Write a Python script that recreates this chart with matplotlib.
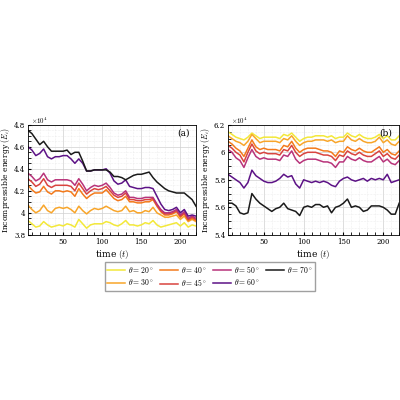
import matplotlib
matplotlib.use("Agg")
import matplotlib.pyplot as plt
import numpy as np

plt.rcParams['font.family'] = ['DejaVu Serif']
plt.rcParams['mathtext.fontset'] = 'cm'

t = list(range(5, 221, 5))
labels = [r'$\theta=20^\circ$', r'$\theta=30^\circ$', r'$\theta=40^\circ$', r'$\theta=45^\circ$',
          r'$\theta=50^\circ$', r'$\theta=60^\circ$', r'$\theta=70^\circ$']
colors = ['#f3e83a', '#f8a52a', '#f37a1c', '#d9443f', '#b8337a', '#5c1286', '#1a1a1a']

a20 = [3.93,3.90,3.87,3.88,3.92,3.89,3.87,3.88,3.89,3.88,3.90,3.89,3.87,3.94,3.90,3.86,3.89,3.90,3.90,3.90,3.92,3.91,3.89,3.88,3.90,3.93,3.89,3.89,3.88,3.89,3.91,3.90,3.93,3.89,3.87,3.88,3.89,3.90,3.91,3.88,3.91,3.87,3.89,3.88]
a30 = [4.07,4.03,4.00,4.02,4.07,4.02,4.00,4.04,4.05,4.04,4.05,4.03,4.00,4.06,4.02,3.99,4.02,4.04,4.03,4.04,4.06,4.04,4.02,4.01,4.02,4.06,4.01,4.02,4.00,4.00,4.02,4.01,4.05,4.00,3.98,3.96,3.96,3.97,3.98,3.94,3.97,3.92,3.94,3.92]
a40 = [4.25,4.21,4.18,4.19,4.24,4.19,4.17,4.20,4.20,4.19,4.20,4.19,4.15,4.22,4.17,4.13,4.16,4.18,4.18,4.18,4.21,4.17,4.13,4.11,4.12,4.15,4.10,4.10,4.09,4.09,4.10,4.10,4.12,4.06,4.01,3.98,3.98,3.99,4.01,3.96,3.99,3.93,3.95,3.93]
a45 = [4.31,4.28,4.24,4.26,4.31,4.25,4.23,4.25,4.25,4.25,4.25,4.24,4.20,4.27,4.22,4.17,4.20,4.22,4.21,4.22,4.24,4.20,4.16,4.14,4.15,4.18,4.12,4.12,4.11,4.11,4.12,4.12,4.13,4.07,4.02,3.99,3.99,4.00,4.02,3.97,4.00,3.94,3.96,3.94]
a50 = [4.36,4.33,4.29,4.31,4.36,4.30,4.28,4.30,4.30,4.30,4.30,4.29,4.25,4.31,4.26,4.20,4.23,4.25,4.24,4.25,4.27,4.23,4.18,4.16,4.17,4.20,4.14,4.14,4.13,4.13,4.14,4.14,4.14,4.08,4.03,4.00,4.00,4.01,4.03,3.98,4.01,3.95,3.97,3.95]
a60 = [4.60,4.57,4.52,4.54,4.58,4.51,4.49,4.51,4.51,4.52,4.52,4.49,4.45,4.49,4.45,4.38,4.38,4.39,4.39,4.39,4.40,4.36,4.29,4.26,4.27,4.30,4.24,4.23,4.22,4.22,4.23,4.23,4.22,4.15,4.08,4.03,4.02,4.03,4.05,4.00,4.03,3.97,3.98,3.97]
a70 = [4.75,4.72,4.67,4.62,4.65,4.60,4.56,4.56,4.56,4.56,4.57,4.53,4.55,4.55,4.47,4.38,4.38,4.39,4.39,4.39,4.39,4.37,4.33,4.33,4.32,4.30,4.32,4.34,4.35,4.35,4.36,4.37,4.32,4.28,4.25,4.22,4.20,4.19,4.18,4.18,4.18,4.15,4.12,4.06]

b20 = [6.15,6.13,6.11,6.10,6.09,6.11,6.14,6.12,6.10,6.11,6.11,6.11,6.11,6.10,6.13,6.12,6.14,6.11,6.08,6.10,6.11,6.11,6.12,6.12,6.12,6.11,6.12,6.10,6.11,6.11,6.14,6.12,6.11,6.13,6.11,6.10,6.10,6.11,6.13,6.10,6.12,6.09,6.09,6.12]
b30 = [6.12,6.10,6.08,6.07,6.05,6.08,6.13,6.10,6.07,6.08,6.08,6.08,6.08,6.07,6.10,6.09,6.12,6.08,6.05,6.07,6.08,6.08,6.09,6.09,6.09,6.08,6.09,6.07,6.08,6.08,6.12,6.09,6.08,6.10,6.08,6.07,6.07,6.08,6.11,6.07,6.09,6.06,6.05,6.08]
b40 = [6.08,6.06,6.03,6.01,5.97,6.03,6.09,6.04,6.02,6.03,6.02,6.02,6.02,6.01,6.05,6.04,6.08,6.03,6.00,6.02,6.03,6.03,6.03,6.02,6.01,6.01,6.00,5.97,6.01,6.00,6.04,6.02,6.01,6.03,6.01,6.00,6.00,6.02,6.04,6.00,6.02,5.99,5.98,6.01]
b45 = [6.05,6.03,6.00,5.98,5.93,6.00,6.06,6.01,5.99,6.00,5.99,5.99,5.99,5.98,6.02,6.01,6.05,6.00,5.97,5.99,6.00,6.00,6.00,5.99,5.98,5.98,5.97,5.94,5.98,5.97,6.01,5.99,5.98,6.00,5.98,5.97,5.97,5.99,6.01,5.97,5.99,5.96,5.95,5.98]
b50 = [6.02,6.00,5.96,5.94,5.89,5.96,6.02,5.97,5.95,5.96,5.95,5.95,5.95,5.94,5.98,5.97,6.01,5.95,5.92,5.94,5.95,5.95,5.95,5.94,5.93,5.93,5.92,5.89,5.93,5.93,5.97,5.95,5.94,5.96,5.94,5.93,5.93,5.95,5.97,5.93,5.95,5.92,5.91,5.94]
b60 = [5.84,5.82,5.80,5.78,5.74,5.78,5.87,5.83,5.81,5.79,5.78,5.78,5.79,5.81,5.84,5.82,5.83,5.77,5.74,5.80,5.79,5.78,5.79,5.78,5.79,5.78,5.76,5.75,5.79,5.81,5.82,5.80,5.79,5.80,5.81,5.79,5.81,5.80,5.81,5.80,5.84,5.78,5.79,5.80]
b70 = [5.63,5.63,5.61,5.56,5.55,5.56,5.70,5.66,5.63,5.61,5.59,5.57,5.59,5.60,5.63,5.59,5.58,5.57,5.54,5.60,5.61,5.60,5.62,5.62,5.60,5.61,5.56,5.60,5.61,5.63,5.66,5.60,5.61,5.60,5.57,5.58,5.61,5.61,5.61,5.60,5.58,5.55,5.55,5.63]

A = [a20, a30, a40, a45, a50, a60, a70]
B = [b20, b30, b40, b45, b50, b60, b70]

fig = plt.figure(figsize=(4, 4), dpi=100)
axa = fig.add_axes([0.07, 0.413, 0.42, 0.275])
axb = fig.add_axes([0.57, 0.413, 0.428, 0.275])

handles = []
for ax, data, ylim, yt, tag in [(axa, A, (3.8, 4.8), [3.8, 4.0, 4.2, 4.4, 4.6, 4.8], '(a)'),
                                (axb, B, (5.4, 6.2), [5.4, 5.6, 5.8, 6.0, 6.2], '(b)')]:
    for d, c, l in zip(data, colors, labels):
        h, = ax.plot(t, d, color=c, lw=1.1, label=l)
        if ax is axa:
            handles.append(h)
    ax.set_xlim(5, 220)
    ax.set_ylim(*ylim)
    ax.set_yticks(yt)
    ax.set_yticklabels([('%g' % v) for v in yt])
    ax.set_xticks([50, 100, 150, 200])
    ax.set_xticks(np.arange(10, 221, 10), minor=True)
    ax.set_yticks(np.arange(ylim[0], ylim[1] + 1e-9, 0.05), minor=True)
    ax.grid(True, which='major', color='#d0d0d0', lw=0.5)
    ax.grid(True, which='minor', color='#e0e0e0', lw=0.4, ls=':')
    ax.tick_params(labelsize=5, length=2, direction='in', which='both', pad=2)
    ax.set_xlabel(r'time $(t)$', fontsize=6.5, labelpad=2)
    ax.set_ylabel(r'Incompressible energy $(E_i)$', fontsize=5.5, labelpad=1.5)
    ax.text(0.02, 1.01, r'$\times10^4$', transform=ax.transAxes, fontsize=5)
    ax.text(0.96, 0.9, tag, transform=ax.transAxes, fontsize=6.5, ha='right')
    for s in ax.spines.values():
        s.set_linewidth(0.6)

fig.legend(handles, labels, loc='upper center', bbox_to_anchor=(0.525, 0.355), ncol=4,
           fontsize=5.5, frameon=True, fancybox=False, edgecolor='#888888',
           handlelength=2.4, columnspacing=0.8, handletextpad=0.4, borderpad=0.3,
           labelspacing=0.3)
fig.savefig('out.png', dpi=100, facecolor='white')
